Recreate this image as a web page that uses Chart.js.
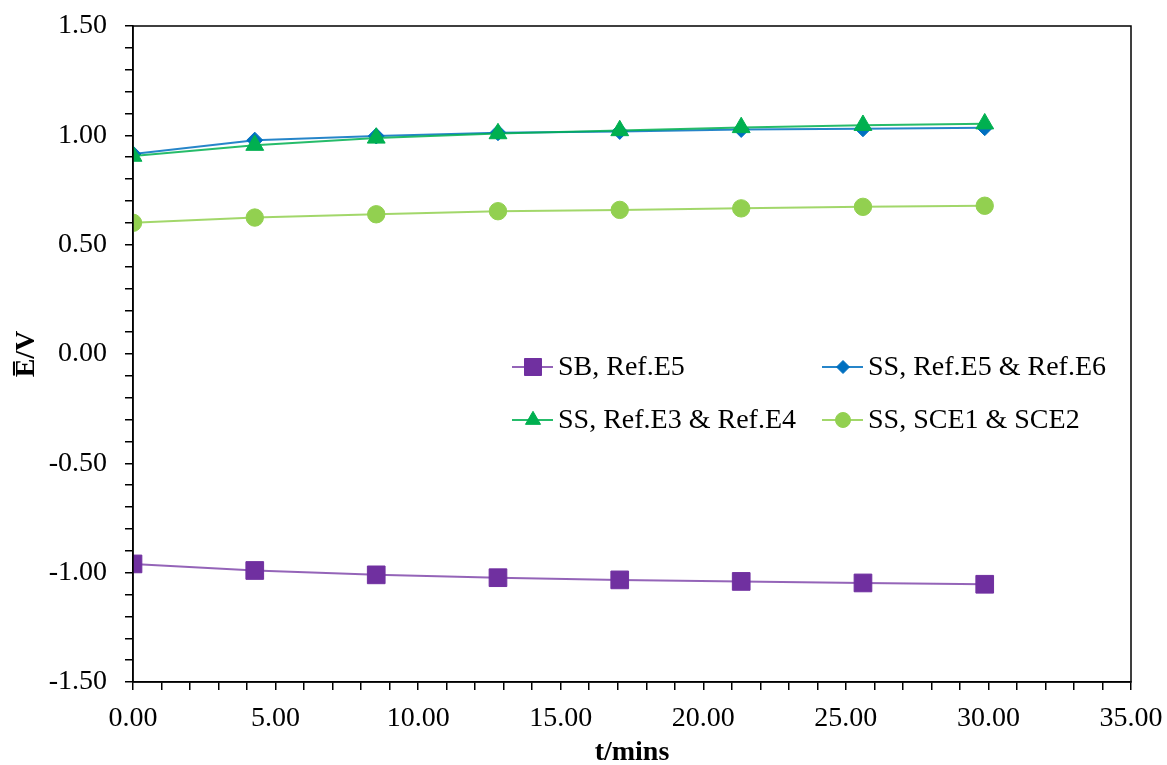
<!DOCTYPE html>
<html>
<head>
<meta charset="utf-8">
<script src="https://cdn.jsdelivr.net/npm/chart.js@4/dist/chart.umd.min.js"></script>
<style>
  html, body { margin: 0; padding: 0; background: #fff; }
  #wrap { width: 1167px; height: 765px; }
</style>
</head>
<body>
<div id="wrap"><canvas id="chart"></canvas></div>
<script>
// time points (minutes)
const times = [0, 4.27, 8.53, 12.8, 17.07, 21.33, 25.6, 29.87];

// potentials, V
const sbRefE5 = [-0.960, -0.990, -1.010, -1.023, -1.033, -1.040, -1.047, -1.053];
const ssRefE5E6 = [0.915, 0.978, 0.997, 1.012, 1.018, 1.027, 1.030, 1.035];
const ssRefE3E4 = [0.905, 0.955, 0.988, 1.008, 1.022, 1.036, 1.046, 1.053];
const ssSCE = [0.600, 0.624, 0.639, 0.653, 0.659, 0.666, 0.673, 0.678];

const seriesNames = ['SB, Ref.E5', 'SS, Ref.E5 & Ref.E6', 'SS, Ref.E3 & Ref.E4', 'SS, SCE1 & SCE2'];

const toPoints = vals => vals.map((v, i) => ({ x: times[i], y: v }));

const FONT = "'Liberation Serif', 'Times New Roman', serif";

// legend drawn inside the plot, two columns
const insideLegend = {
  id: 'insideLegend',
  afterDraw(chart) {
    const ctx = chart.ctx;
    const area = chart.chartArea;
    const slots = [
      { ds: 0, x: 512, y: 367, r: 12 },
      { ds: 1, x: 822, y: 367, r: 6.5 },
      { ds: 2, x: 512, y: 420, r: 8.7 },
      { ds: 3, x: 822, y: 420, r: 7.5 },
    ];
    ctx.save();
    slots.forEach(s => {
      const d = chart.data.datasets[s.ds];
      ctx.strokeStyle = d.borderColor;
      ctx.lineWidth = 2;
      ctx.beginPath();
      ctx.moveTo(s.x, s.y);
      ctx.lineTo(s.x + 41, s.y);
      ctx.stroke();
      ctx.fillStyle = d.pointBackgroundColor;
      ctx.strokeStyle = d.pointBorderColor;
      ctx.lineWidth = 1;
      Chart.helpers.drawPoint(ctx, {
        pointStyle: d.pointStyle,
        radius: s.r,
        rotation: 0,
        borderWidth: 1,
      }, s.x + 21, s.y);
      ctx.fillStyle = '#000';
      ctx.font = '28px ' + FONT;
      ctx.textBaseline = 'middle';
      ctx.textAlign = 'left';
      ctx.fillText(d.label, s.x + 46, s.y + 1);
    });
    // box around plot area
    ctx.strokeStyle = '#000';
    ctx.lineWidth = 1.5;
    ctx.strokeRect(area.left, area.top, area.right - area.left, area.bottom - area.top);
    ctx.restore();
  },
};

const ds = (label, vals, color, lineColor, style, radius, order) => ({
  label,
  data: toPoints(vals),
  borderColor: lineColor,
  borderWidth: 2,
  pointStyle: style,
  pointRadius: radius,
  pointBackgroundColor: color,
  pointBorderColor: color,
  pointBorderWidth: 1,
  tension: 0,
  order,
});

new Chart(document.getElementById('chart'), {
  type: 'line',
  data: {
    datasets: [
      ds(seriesNames[0], sbRefE5, '#7030A0', 'rgba(112,48,160,0.75)', 'rect', 12.5, 3),
      ds(seriesNames[1], ssRefE5E6, '#0070C0', 'rgba(0,112,192,0.85)', 'rectRot', 8, 1),
      ds(seriesNames[2], ssRefE3E4, '#00B050', 'rgba(0,176,80,0.85)', 'triangle', 10.3, 0),
      ds(seriesNames[3], ssSCE, '#92D050', 'rgba(146,208,80,0.85)', 'circle', 8.7, 2),
    ],
  },
  options: {
    responsive: true,
    maintainAspectRatio: false,
    animation: false,
    layout: { padding: { top: 26, right: 36, left: 0, bottom: 0 } },
    plugins: {
      legend: { display: false },
      tooltip: { enabled: false },
    },
    scales: {
      x: {
        type: 'linear',
        min: 0,
        max: 35,
        afterFit: s => {
          s.height = 83;
          s.paddingLeft = 0;
          s.paddingRight = 0;
        },
        border: { display: true, color: '#000', width: 1.5 },
        grid: { drawOnChartArea: false, drawTicks: true, tickLength: 8, color: '#000', lineWidth: 1.5 },
        ticks: {
          stepSize: 1,
          autoSkip: false,
          maxRotation: 0,
          padding: 12,
          color: '#000',
          font: { family: FONT, size: 28 },
          callback: v => (Math.round(v) % 5 === 0 ? (Math.round(v * 100) / 100 + 0).toFixed(2) : ''),
        },
        title: {
          display: true,
          text: 't/mins',
          color: '#000',
          font: { family: FONT, size: 28, weight: 'bold', lineHeight: 0.9 },
          padding: 0,
        },
      },
      y: {
        min: -1.5,
        max: 1.5,
        afterFit: s => {
          s.width = 133;
          s.paddingTop = 0;
          s.paddingBottom = 0;
        },
        border: { display: true, color: '#000', width: 1.5 },
        grid: { drawOnChartArea: false, drawTicks: true, tickLength: 8, color: '#000', lineWidth: 1.5 },
        ticks: {
          stepSize: 0.1,
          autoSkip: false,
          padding: 18,
          color: '#000',
          font: { family: FONT, size: 28 },
          callback: v => {
            const t = Math.round(v * 10);
            return t % 5 === 0 ? (Math.round(v * 100) / 100 + 0).toFixed(2) : '';
          },
        },
        title: {
          display: true,
          text: 'E\u0305/V',
          color: '#000',
          font: { family: FONT, size: 28, weight: 'bold' },
          padding: { top: 10, bottom: 0 },
        },
      },
    },
  },
  plugins: [insideLegend],
});
</script>
</body>
</html>
